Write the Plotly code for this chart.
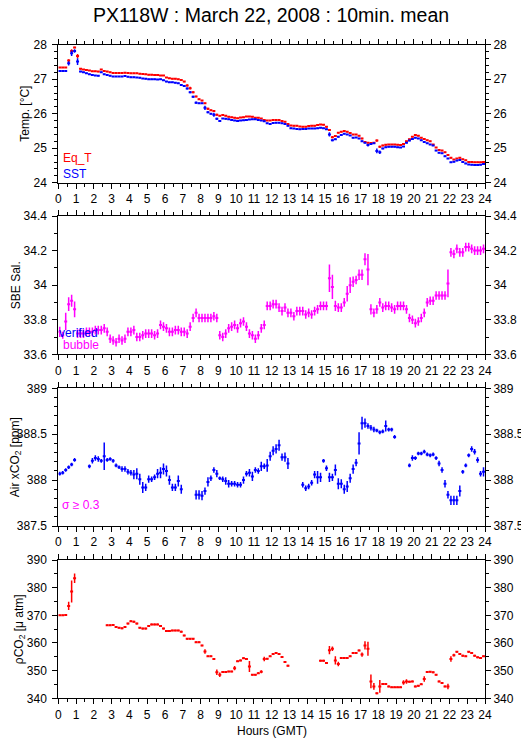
import plotly.graph_objects as go

# 10-minute bins, centre of each bin in hours
HOURS = [(k + 0.5) / 6 for k in range(144)]
HALF_BIN = 1 / 12

EQ_T = [
    27.34, 27.34, 27.34, 27.54, 27.82, 27.92,
    27.67, 27.30, 27.28, 27.27, 27.25, 27.23,
    27.23, 27.22, 27.28, 27.24, 27.22, 27.20,
    27.18, 27.18, 27.18, 27.18, 27.19, 27.18,
    27.17, 27.17, 27.17, 27.16, 27.15, 27.14,
    27.13, 27.13, 27.12, 27.12, 27.11, 27.11,
    27.05, 27.03, 27.01, 27.01, 27.00, 26.98,
    26.93, 26.82, 26.74, 26.62, 26.50, 26.42,
    26.38, 26.30, 26.14, 26.10, 26.08, 25.97,
    25.94, 25.96, 25.94, 25.91, 25.90, 25.88,
    25.87, 25.89, 25.90, 25.92, 25.92, 25.91,
    25.88, 25.88, 25.86, 25.82, 25.80, 25.80,
    25.82, 25.82, 25.82, 25.79, 25.77, 25.70,
    25.66, 25.65, 25.65, 25.63, 25.62, 25.62,
    25.64, 25.65, 25.65, 25.67, 25.69, 25.68,
    25.62, 25.53, 25.32, 25.35, 25.45, 25.48,
    25.50, 25.48, 25.44, 25.40, 25.40, 25.36,
    25.28, 25.18, 25.16, 25.15, 25.16, 25.22,
    25.04, 25.08, 25.10, 25.11, 25.11, 25.11,
    25.10, 25.09, 25.12, 25.20, 25.26, 25.33,
    25.38, 25.36, 25.30, 25.27, 25.23, 25.20,
    25.11, 25.02, 24.95, 24.93, 24.88, 24.80,
    24.72, 24.67, 24.70, 24.72, 24.68, 24.65,
    24.60, 24.60, 24.59, 24.59, 24.59, 24.60,
]
EQ_T_SD = [
    0.01, 0.01, 0.01, 0.04, 0.05, 0.02,
    0.06, 0.02, 0.015, 0.015, 0.015, 0.015,
    *[0.015] * 30,
    0.02, 0.03, 0.04, 0.03, 0.02, 0.02,
    0.02, 0.02, 0.03, 0.02, 0.02, 0.03,
    *[0.015] * 36,
    0.02, 0.03, 0.03, 0.02, 0.02, 0.02,
    *[0.015] * 6,
    0.02, 0.03, 0.02, 0.02, 0.02, 0.03,
    0.03, 0.02, 0.02, 0.015, 0.015, 0.015,
    *[0.015] * 30,
]
SST = [
    27.24, 27.24, 27.24, 27.46, 27.75, 27.82,
    27.51, 27.22, 27.20, 27.17, 27.14, 27.12,
    27.11, 27.10, 27.20, 27.14, 27.12, 27.10,
    27.08, 27.08, 27.08, 27.08, 27.09, 27.07,
    27.06, 27.06, 27.05, 27.04, 27.02, 27.01,
    27.00, 27.00, 27.00, 26.99, 27.00, 26.97,
    26.93, 26.91, 26.91, 26.90, 26.88, 26.83,
    26.80, 26.73, 26.62, 26.49, 26.32, 26.30,
    26.30, 26.17, 26.04, 26.00, 25.97, 25.85,
    25.79, 25.86, 25.85, 25.84, 25.82, 25.80,
    25.79, 25.80, 25.81, 25.82, 25.83, 25.84,
    25.84, 25.82, 25.80, 25.78, 25.72, 25.70,
    25.73, 25.74, 25.74, 25.72, 25.70, 25.65,
    25.58, 25.57, 25.56, 25.55, 25.56, 25.56,
    25.57, 25.57, 25.57, 25.58, 25.59, 25.58,
    25.55, 25.40, 25.23, 25.26, 25.33, 25.38,
    25.42, 25.40, 25.37, 25.30, 25.31, 25.28,
    25.20, 25.16, 25.09, 25.12, 25.14, 24.92,
    24.88, 24.99, 25.03, 25.04, 25.04, 25.04,
    25.03, 25.02, 25.05, 25.16, 25.22, 25.27,
    25.30, 25.28, 25.23, 25.18, 25.14, 25.11,
    25.08, 24.93, 24.87, 24.85, 24.77, 24.70,
    24.59, 24.61, 24.64, 24.66, 24.60, 24.56,
    24.53, 24.52, 24.51, 24.51, 24.52, 24.54,
]
SST_SD = [
    0.01, 0.01, 0.01, 0.06, 0.08, 0.05,
    0.10, 0.02, 0.015, 0.015, 0.015, 0.015,
    *[0.015] * 30,
    0.02, 0.03, 0.03, 0.03, 0.03, 0.02,
    0.02, 0.06, 0.03, 0.02, 0.06, 0.03,
    *[0.015] * 36,
    0.02, 0.06, 0.03, 0.02, 0.02, 0.02,
    *[0.015] * 6,
    0.02, 0.02, 0.04, 0.03, 0.02, 0.07,
    0.05, 0.02, 0.02, 0.015, 0.015, 0.015,
    *[0.015] * 30,
]

SALINITY = [
    33.73, 33.71, 33.79, 33.89, 33.91, 33.86,
    33.72, 33.72, 33.72, 33.73, 33.73, 33.73,
    33.74, 33.74, 33.74, 33.75, 33.73, 33.69,
    33.68, 33.67, 33.69, 33.68, 33.69, 33.73,
    33.73, 33.74, 33.70, 33.70, 33.71, 33.72,
    33.72, 33.72, 33.71, 33.72, 33.77, 33.76,
    33.75, 33.73, 33.73, 33.74, 33.74, 33.73,
    33.73, 33.72, 33.76, 33.81, 33.84, 33.81,
    33.81, 33.81, 33.81, 33.81, 33.82, 33.81,
    33.71, 33.70, 33.72, 33.75, 33.76, 33.77,
    33.75, 33.78, 33.79, 33.76, 33.72, 33.71,
    33.69, 33.71, 33.75, 33.77, 33.88, 33.88,
    33.89, 33.89, 33.87, 33.85, 33.87, 33.84,
    33.84, 33.82, 33.85, 33.85, 33.85, 33.83,
    33.84, 33.83, 33.85, 33.86, 33.88, 33.88,
    33.88, 34.04, 33.99, 33.88, 33.87, 33.87,
    33.90, 33.95, 34.00, 34.02, 34.03, 34.06,
    34.06, 34.15, 34.09, 33.86, 33.84, 33.86,
    33.90, 33.87, 33.88, 33.88, 33.87, 33.86,
    33.88, 33.88, 33.88, 33.86, 33.81, 33.80,
    33.78, 33.79, 33.81, 33.84, 33.90, 33.91,
    33.91, 33.94, 33.94, 33.94, 33.94, 34.01,
    34.19, 34.18, 34.21, 34.19, 34.19, 34.22,
    34.22, 34.21, 34.20, 34.20, 34.20, 34.21,
]
SALINITY_SD = [
    0.03, 0.02, 0.05, 0.04, 0.035, 0.045,
    *[0.025] * 84,
    0.025, 0.08, 0.07, 0.03, 0.025, 0.025,
    0.025, 0.045, 0.045, 0.03, 0.025, 0.03,
    0.03, 0.035, 0.09, 0.03, 0.025, 0.025,
    *[0.025] * 23,
    0.08,
    *[0.025] * 12,
]

AIR_XCO2 = [
    388.07, 388.08, 388.11, 388.14, 388.17, 388.22,
    None, None, None, None, 388.15, 388.21,
    388.24, 388.23, 388.21, 388.26, 388.22, 388.23,
    388.21, 388.16, 388.14, 388.12, 388.12, 388.09,
    388.08, 388.06, 388.07, 388.01, 387.92, 387.92,
    388.01, 388.01, 388.03, 388.07, 388.08, 388.12,
    388.10, 388.00, 387.92, 387.92, 387.99, 387.90,
    None, None, None, None, 387.84, 387.84,
    387.83, 387.88, 387.98, 388.02, 388.11, 388.07,
    388.02, 388.01, 387.99, 387.96, 387.96, 387.96,
    387.95, 387.95, 388.00, 388.07, 388.08, 388.04,
    388.11, 388.10, 388.15, 388.15, 388.16, 388.26,
    388.32, 388.34, 388.38, 388.25, 388.25, 388.18,
    None, None, None, None, 387.95, 387.91,
    387.93, 387.97, 388.06, 388.03, 388.03, 388.21,
    388.13, 388.03, 388.03, 388.11, 387.96, 387.96,
    387.90, 387.93, 388.02, 388.12, 388.19, 388.40,
    388.62, 388.62, 388.59, 388.57, 388.55, 388.54,
    388.52, 388.53, 388.59, 388.55, 388.55, 388.47,
    None, None, None, None, 388.16, 388.24,
    388.24, 388.29, 388.29, 388.31, 388.28, 388.27,
    388.28, 388.24, 388.18, 388.11, 387.96, 387.84,
    387.78, 387.78, 387.78, 387.88, 388.09, 388.16,
    388.27, 388.34, 388.31, 388.22, 388.07, 388.09,
]
AIR_XCO2_SD = [
    0.02, 0.02, 0.02, 0.02, 0.02, 0.02,
    0.02, 0.02, 0.02, 0.02, 0.02, 0.03,
    0.03, 0.03, 0.02, 0.15, 0.02, 0.02,
    0.02, 0.02, 0.02, 0.03, 0.03, 0.03,
    0.03, 0.05, 0.06, 0.06, 0.06, 0.04,
    0.04, 0.03, 0.03, 0.05, 0.06, 0.06,
    0.06, 0.05, 0.04, 0.04, 0.06, 0.05,
    0.02, 0.02, 0.02, 0.02, 0.05, 0.05,
    0.05, 0.04, 0.05, 0.03, 0.03, 0.04,
    0.02, 0.03, 0.04, 0.04, 0.03, 0.03,
    0.03, 0.03, 0.04, 0.03, 0.04, 0.05,
    0.03, 0.03, 0.05, 0.03, 0.07, 0.05,
    0.05, 0.05, 0.06, 0.04, 0.05, 0.06,
    0.02, 0.02, 0.02, 0.02, 0.03, 0.03,
    0.03, 0.03, 0.04, 0.07, 0.05, 0.02,
    0.03, 0.05, 0.04, 0.06, 0.06, 0.05,
    0.05, 0.06, 0.05, 0.05, 0.04, 0.12,
    0.07, 0.05, 0.03, 0.03, 0.03, 0.02,
    0.02, 0.02, 0.06, 0.02, 0.02, 0.02,
    0.02, 0.02, 0.02, 0.02, 0.02, 0.03,
    0.02, 0.02, 0.02, 0.02, 0.02, 0.02,
    0.02, 0.02, 0.03, 0.03, 0.04, 0.04,
    0.05, 0.05, 0.05, 0.06, 0.02, 0.02,
    0.02, 0.03, 0.03, 0.03, 0.03, 0.05,
]

PCO2 = [
    370.0, 370.0, 370.1, 373.4, 378.6, 383.4,
    None, None, None, None, None, None,
    None, None, None, None, 366.4, 366.4,
    366.5, 365.8, 365.5, 365.3, 365.8, 367.0,
    367.9, 367.7, 367.0, 365.5, 365.2, 365.2,
    366.1, 366.7, 366.7, 366.7, 366.1, 365.2,
    364.3, 364.3, 364.5, 364.5, 364.5, 364.1,
    362.7, 361.5, 361.5, 361.5, 360.3, 360.3,
    359.1, 356.9, 355.2, 355.2, 354.2, 349.4,
    348.5, 349.5, 349.5, 349.7, 349.7, 350.9,
    353.4, 353.7, 354.5, 354.2, 351.5, 348.5,
    348.5, 349.1, 349.6, 354.2, 354.3, 355.2,
    356.0, 356.4, 356.0, 354.9, 353.1, 351.8,
    None, None, None, None, None, None,
    None, None, None, None, 353.6, 353.6,
    352.8, 357.4, 357.9, 353.7, 352.4, 354.6,
    354.6, 354.6, 355.2, 356.4, 356.4, 357.3,
    355.8, 359.1, 357.9, 346.1, 344.3, 341.8,
    344.3, 345.2, 345.2, 344.3, 344.0, 344.0,
    344.0, 344.0, 345.7, 346.1, 346.0, 346.1,
    344.3, 344.5, 345.1, 347.0, 349.5, 349.6,
    349.4, 348.5, 346.1, 345.5, 344.3, 344.3,
    354.2, 355.6, 356.8, 356.0, 355.4, 355.2,
    356.8, 356.4, 355.4, 354.8, 354.6, 355.2,
]
PCO2_SD = [
    0.2, 0.2, 0.3, 1.5, 4.0, 1.7,
    *[0.3] * 42,
    0.3, 0.8, 0.3, 0.3, 0.3, 1.0,
    0.8, 0.3, 0.3, 0.3, 0.3, 0.8,
    0.3, 0.3, 0.3, 0.3, 2.0, 0.3,
    0.3, 0.3, 0.5, 0.8, 0.3, 0.3,
    *[0.3] * 18,
    0.3, 1.5, 0.8, 1.5, 0.8, 0.3,
    0.3, 0.3, 0.3, 0.3, 0.3, 0.3,
    0.8, 1.5, 2.5, 2.5, 1.2, 0.3,
    2.3, 0.3, 0.3, 0.3, 0.3, 0.3,
    0.3, 0.3, 0.8, 0.8, 0.3, 0.3,
    0.3, 0.3, 0.3, 1.0, 0.3, 0.3,
    0.3, 0.3, 0.3, 0.3, 0.3, 1.0,
    1.0, 0.5, 0.3, 0.3, 0.3, 0.3,
    0.3, 0.3, 0.3, 0.3, 0.3, 0.3,
]

RED, BLUE, MAGENTA = "#ff0000", "#0000ff", "#ff00ff"
FONT = "Liberation Sans, Arial, sans-serif"

# the page body has an 8px margin, so the figure starts at (8, 8) in the window
PAGE_OFF = 8
W, H = 529 - PAGE_OFF, 739 - PAGE_OFF


def fx(px):
    return (px - PAGE_OFF) / W


def fy(py):
    return 1 - (py - PAGE_OFF) / H


X_DOMAIN = [fx(58.3), fx(485)]
# panel pixel bounds in the window (top, bottom)
PANELS = [(44.7, 182.7), (216, 354.3), (388.3, 526), (560, 698.3)]
Y_RANGES = [[24, 28], [33.6, 34.4], [387.5, 389], [340, 390]]
Y_DTICK = [1, 0.2, 0.5, 10]
Y_MINOR = [0.2, 0.1, 0.1, 5]
Y_TITLES = ["Temp. [°C]", "SBE Sal.", "Air xCO<sub>2</sub> [ppm]", "ρCO<sub>2</sub> [μ atm]"]
Y_TITLE_X = [25, 16, 16, 20]


def cross_trace(y, sd, color, row):
    return go.Scatter(
        x=HOURS, y=y, mode="markers",
        marker=dict(size=1, color=color),
        error_x=dict(type="constant", value=HALF_BIN, width=0, thickness=2, color=color),
        error_y=dict(type="data", array=sd, width=0, thickness=1.5, color=color),
        xaxis=f"x{row}", yaxis=f"y{row}", showlegend=False, hoverinfo="x+y",
    )


fig = go.Figure()
fig.add_trace(cross_trace(EQ_T, EQ_T_SD, RED, 1))
fig.add_trace(cross_trace(SST, SST_SD, BLUE, 1))
fig.add_trace(cross_trace(SALINITY, SALINITY_SD, MAGENTA, 2))
fig.add_trace(cross_trace(AIR_XCO2, AIR_XCO2_SD, BLUE, 3))
fig.add_trace(cross_trace(PCO2, PCO2_SD, RED, 4))

axis_common = dict(
    showline=True, linecolor="black", linewidth=1, mirror="ticks",
    ticks="outside", ticklen=5, tickcolor="black", showgrid=False, zeroline=False,
    automargin=False, tickfont=dict(family=FONT, size=12, color="black"),
)
layout = {}
annotations = []
for i, (top, bottom) in enumerate(PANELS, start=1):
    dom = [fy(bottom), fy(top)]
    layout[f"xaxis{i}"] = dict(
        axis_common, domain=X_DOMAIN, anchor=f"y{i}", range=[0, 24], dtick=1,
        minor=dict(dtick=0.5, ticks="outside", ticklen=3, tickcolor="black"),
    )
    yargs = dict(
        axis_common, range=Y_RANGES[i - 1], dtick=Y_DTICK[i - 1],
        minor=dict(dtick=Y_MINOR[i - 1], ticks="outside", ticklen=3, tickcolor="black"),
    )
    layout[f"yaxis{i}"] = dict(yargs, domain=dom, anchor=f"x{i}", ticklabelstandoff=3)
    layout[f"yaxis{i + 4}"] = dict(yargs, overlaying=f"y{i}", anchor=f"x{i}", side="right")
    annotations.append(dict(
        text=Y_TITLES[i - 1], textangle=-90, x=fx(Y_TITLE_X[i - 1]), y=sum(dom) / 2,
        xref="paper", yref="paper", showarrow=False, xanchor="center", yanchor="middle",
        font=dict(family=FONT, size=12, color="black"),
    ))

# keep the right-hand axes alive
for i in range(1, 5):
    fig.add_trace(go.Scatter(x=[None], y=[None], xaxis=f"x{i}", yaxis=f"y{i + 4}",
                             showlegend=False, hoverinfo="skip"))


def label(text, px, py, color):
    annotations.append(dict(
        text=text, x=fx(px), y=fy(py), xref="paper", yref="paper", showarrow=False,
        xanchor="left", yanchor="middle", font=dict(family=FONT, size=12, color=color),
    ))


label("Eq_T", 61, 158, RED)
label("SST", 61, 174, BLUE)
label("verified", 57, 333, BLUE)
label("bubble", 61, 345, MAGENTA)
label("σ ≥ 0.3", 60, 505, MAGENTA)

annotations.append(dict(
    text="Hours (GMT)", x=0.5 * (X_DOMAIN[0] + X_DOMAIN[1]), y=fy(731),
    xref="paper", yref="paper", showarrow=False, xanchor="center", yanchor="middle",
    font=dict(family=FONT, size=12, color="black"),
))

fig.update_layout(
    **layout,
    annotations=annotations,
    title=dict(text="PX118W : March 22, 2008 : 10min. mean", x=fx(271), xanchor="center",
               y=1, yanchor="top", automargin=False,
               font=dict(family=FONT, size=19.5, color="black")),
    width=W, height=H, margin=dict(l=0, r=0, t=0, b=0, autoexpand=False),
    paper_bgcolor="white", plot_bgcolor="white", showlegend=False,
)

fig.write_html("out.html")
